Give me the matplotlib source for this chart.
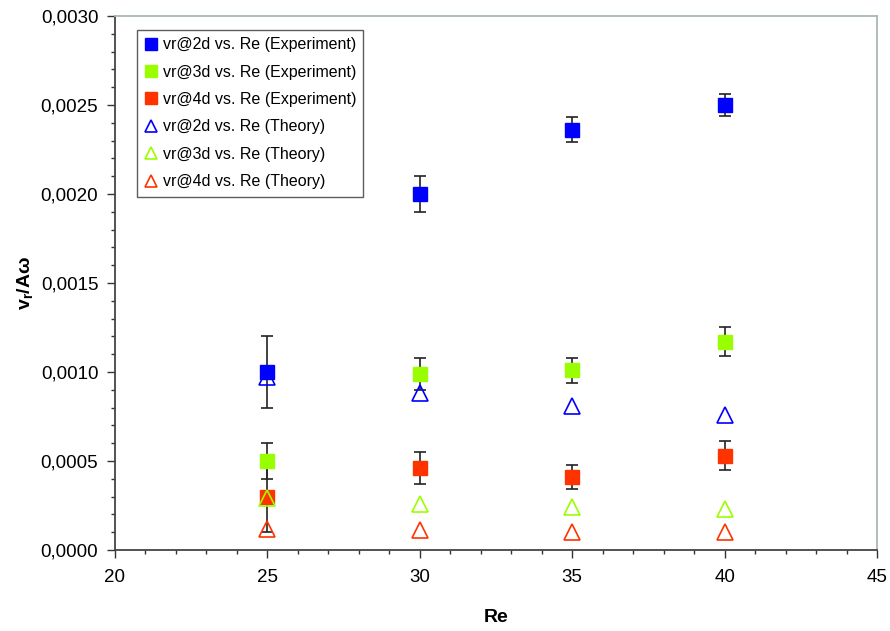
import numpy as np
import matplotlib.pyplot as plt
from matplotlib.lines import Line2D
from matplotlib.ticker import MultipleLocator, FuncFormatter

plt.rcParams['font.family'] = ['Liberation Sans', 'DejaVu Sans']
plt.rcParams['mathtext.fontset'] = 'custom'
plt.rcParams['mathtext.rm'] = 'Liberation Sans'
plt.rcParams['mathtext.bf'] = 'Liberation Sans:bold'

# Reynolds numbers
re_vals = [25, 30, 35, 40]

# measured radial velocity (normalised) with error bars
exp_2d = [0.00100, 0.00200, 0.00236, 0.00250]
err_2d = [0.00020, 0.00010, 0.00007, 0.00006]
exp_3d = [0.00050, 0.00099, 0.00101, 0.00117]
err_3d = [0.00010, 0.00009, 0.00007, 0.00008]
exp_4d = [0.00030, 0.00046, 0.00041, 0.00053]
err_4d = [0.00020, 0.00009, 0.00007, 0.00008]

# theoretical values
th_2d = [0.00097, 0.00088, 0.00081, 0.00076]
th_3d = [0.00029, 0.00026, 0.00024, 0.00023]
th_4d = [0.00012, 0.00011, 0.00010, 0.00010]

blue = '#0000ff'
green = '#99ff00'
red = '#ff3300'

fig = plt.figure(figsize=(8.9, 6.31), dpi=100)
ax = fig.add_axes([0.1292, 0.1284, 0.8562, 0.8462])

handles = []
labels = []
for y, e, c, lab in [(exp_2d, err_2d, blue, 'vr@2d vs. Re (Experiment)'),
                     (exp_3d, err_3d, green, 'vr@3d vs. Re (Experiment)'),
                     (exp_4d, err_4d, red, 'vr@4d vs. Re (Experiment)')]:
    ax.errorbar(re_vals, y, yerr=e, fmt='s', color=c, ecolor='#222222',
                elinewidth=1.2, capsize=4, capthick=1.2, markersize=10.5,
                markeredgecolor=c, zorder=3)
    handles.append(Line2D([], [], linestyle='none', marker='s', markersize=9,
                          color=c))
    labels.append(lab)

for y, c, lab in [(th_2d, blue, 'vr@2d vs. Re (Theory)'),
                  (th_3d, green, 'vr@3d vs. Re (Theory)'),
                  (th_4d, red, 'vr@4d vs. Re (Theory)')]:
    ax.plot(re_vals, y, linestyle='none', marker='^', markersize=11,
            markerfacecolor='none', markeredgecolor=c, markeredgewidth=1.2,
            zorder=4)
    handles.append(Line2D([], [], linestyle='none', marker='^', markersize=9,
                          markerfacecolor='none', markeredgecolor=c,
                          markeredgewidth=1.2))
    labels.append(lab)

ax.set_xlim(20, 45)
ax.set_ylim(0, 0.003)
ax.xaxis.set_major_locator(MultipleLocator(5))
ax.xaxis.set_minor_locator(MultipleLocator(1))
ax.yaxis.set_major_locator(MultipleLocator(0.0005))
ax.yaxis.set_minor_locator(MultipleLocator(0.0001))
ax.yaxis.set_major_formatter(FuncFormatter(lambda v, p: f'{v:.4f}'.replace('.', ',')))

ax.tick_params(which='major', direction='out', length=6, width=1, labelsize=13.5,
               color='#333333')
ax.tick_params(which='minor', direction='out', length=3, width=1, color='#333333')
ax.tick_params(axis='x', pad=8)
ax.tick_params(axis='y', pad=6)

for s in ['left', 'bottom']:
    ax.spines[s].set_color('#444444')
    ax.spines[s].set_linewidth(1.3)
for s in ['top', 'right']:
    ax.spines[s].set_color('#a8b8b8')
    ax.spines[s].set_linewidth(1.3)

ax.set_xlabel('Re', fontsize=14, fontweight='bold', labelpad=16)
ax.set_ylabel(r'$\mathbf{v_r/Aω}$', fontsize=14, labelpad=4)

leg = ax.legend(handles, labels, loc='upper left', bbox_to_anchor=(0.029, 0.974),
                fontsize=11.5, frameon=True, fancybox=False, edgecolor='#333333',
                handlelength=0.8, handletextpad=0.35, labelspacing=0.78,
                borderpad=0.45, borderaxespad=0)
leg.get_frame().set_linewidth(1.0)

fig.savefig('out.png', dpi=100)
